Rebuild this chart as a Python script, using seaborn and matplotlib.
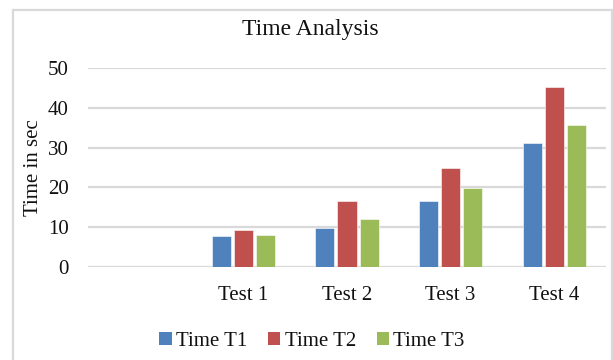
import matplotlib
matplotlib.use("Agg")
import matplotlib.pyplot as plt
import seaborn as sns
import pandas as pd
from matplotlib.patches import Rectangle, Patch

categories = ["Test 1", "Test 2", "Test 3", "Test 4"]
order = [""] + categories
series = ["Time T1", "Time T2", "Time T3"]
time_t1 = [7.9, 9.7, 16.6, 31.2]
time_t2 = [9.3, 16.6, 24.9, 45.2]
time_t3 = [8.1, 12.0, 19.9, 35.8]
yticks = [0, 10, 20, 30, 40, 50]
colors = ["#4F81BD", "#C0504D", "#9BBB59"]

rows = []
for name, vals in zip(series, [time_t1, time_t2, time_t3]):
    for c, v in zip(categories, vals):
        rows.append({"Test": c, "Series": name, "Time": v})
df = pd.DataFrame(rows)

sns.set_theme(style="white")
plt.rcParams["font.family"] = ["Liberation Serif", "DejaVu Serif"]

fig = plt.figure(figsize=(6.13, 3.6), dpi=100)
ax = fig.add_axes([88/613, 1-267/360, (606-88)/613, (267-68)/360])

sns.barplot(data=df, x="Test", y="Time", hue="Series", order=order,
            hue_order=series, palette=colors, width=0.64, gap=0.14,
            edgecolor="white", linewidth=0.4, ax=ax, legend=False,
            errorbar=None, saturation=1)

ax.set_ylim(0, 50)
ax.set_yticks(yticks)
ax.set_yticklabels([str(t) for t in yticks], fontsize=15, color="#111111")
ax.tick_params(axis="x", labelsize=15, colors="#111111", length=0, pad=14)
ax.tick_params(axis="y", length=0, pad=14)
ax.yaxis.grid(True, color="#D9D9D9", linewidth=1.6)
ax.set_axisbelow(True)
for s in ax.spines.values():
    s.set_visible(False)
ax.set_xlabel("")
ax.set_ylabel("Time in sec", fontsize=15, color="#111111")
ax.yaxis.set_label_coords((34-88)/518, 0.497)
ax.yaxis.label.set_va("center")
ax.set_xlim(-0.5, 4.5)

fig.text(310/613, 1-29/360, "Time Analysis", fontsize=17, ha="center", va="center", color="#111111")

handles = [Patch(facecolor=c, edgecolor="none") for c in colors]
fig.legend(handles, series, loc="center", bbox_to_anchor=(312/613, 1-341/360),
           ncol=3, frameon=False, fontsize=15, handlelength=0.6, handleheight=0.6,
           handletextpad=0.2, columnspacing=1.0, labelcolor="#111111")

fig.patches.append(Rectangle((13/613, -0.1), (612-13)/613, 1-10/360+0.1,
                             transform=fig.transFigure, fill=False,
                             edgecolor="#D9D9D9", linewidth=1.6))

fig.savefig("out.png", dpi=100)
